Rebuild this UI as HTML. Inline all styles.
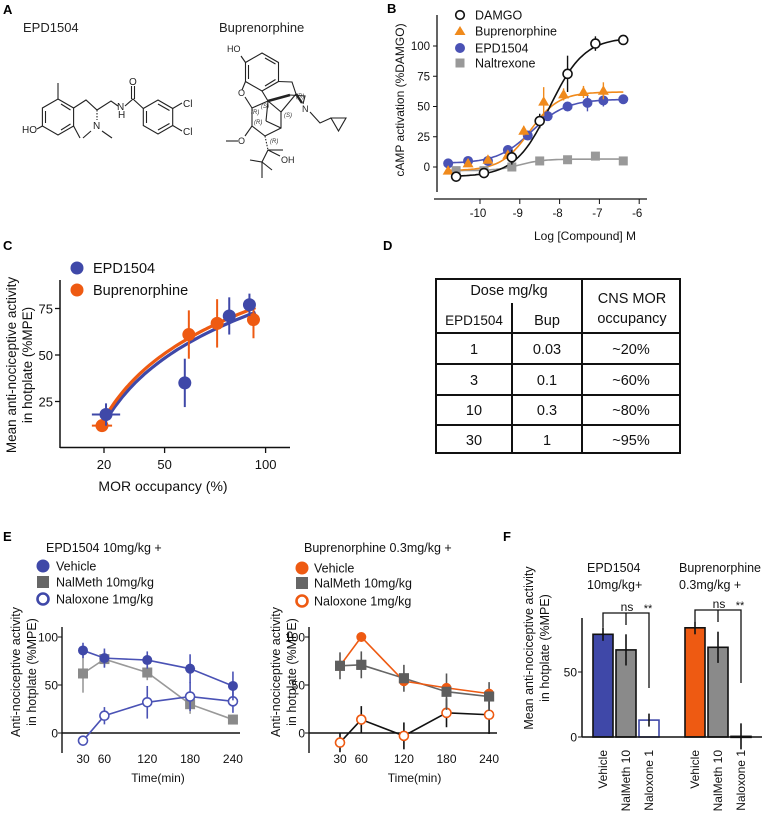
<!DOCTYPE html>
<html><head><meta charset="utf-8"><style>
html,body{margin:0;padding:0;background:#fff;}
svg{display:block;font-family:"Liberation Sans",sans-serif;}
</style></head><body>
<svg id="fig" width="767" height="820" viewBox="0 0 767 820" xmlns="http://www.w3.org/2000/svg">
<g font-weight="bold" font-size="13">
<text x="3" y="14">A</text>
<text x="387" y="13">B</text>
<text x="3" y="250">C</text>
<text x="383" y="250">D</text>
<text x="3" y="541">E</text>
<text x="503" y="541">F</text>
</g>
<g stroke="#222" stroke-width="1.1" fill="none">
<text x="23" y="32" font-size="13" fill="#222" stroke="none">EPD1504</text>
<text x="219" y="32" font-size="13" fill="#222" stroke="none">Buprenorphine</text>
<g>
<polygon points="58,99 73.6,108 73.6,126 58,135 42.4,126 42.4,108"/>
<line x1="61" y1="104" x2="70.5" y2="110"/><line x1="70.5" y1="124" x2="61" y2="130"/><line x1="45.5" y1="111" x2="45.5" y2="123"/>
<line x1="58" y1="99" x2="58" y2="83"/>
<line x1="73.6" y1="126" x2="80" y2="138"/>
<line x1="42.4" y1="126" x2="37" y2="129"/>
<polyline points="73.6,108 86,100 97,110 111,101 118,106"/>
<line x1="97" y1="110" x2="97" y2="120" stroke-dasharray="1.5,1.5"/>
<polyline points="91,131 83,138"/><polyline points="102,131 112,138"/>
<polyline points="125,106 133,99 143.3,108.5"/>
<line x1="131.5" y1="99" x2="131.5" y2="86"/><line x1="134.5" y1="99" x2="134.5" y2="86"/>
<polygon points="158,100 172.7,108.5 172.7,125.5 158,134 143.3,125.5 143.3,108.5"/>
<line x1="158" y1="104" x2="169.5" y2="110.5"/><line x1="169.5" y1="123.5" x2="158" y2="130"/><line x1="146.5" y1="111" x2="146.5" y2="123"/>
<line x1="172.7" y1="108.5" x2="182" y2="103"/><line x1="172.7" y1="125.5" x2="182" y2="131"/>
<g fill="#222" stroke="none" font-size="10">
<text x="22" y="133">HO</text><text x="93" y="129">N</text><text x="117" y="110">N</text><text x="118" y="118">H</text>
<text x="129" y="85">O</text><text x="183" y="107">Cl</text><text x="183" y="135">Cl</text>
</g></g>
<g>
<polygon points="262,53 278.5,62.5 278.5,81.5 262,91 245.5,81.5 245.5,62.5"/>
<line x1="265" y1="58" x2="275.5" y2="64"/><line x1="275.5" y1="79.5" x2="265" y2="86"/><line x1="248.5" y1="65" x2="248.5" y2="79"/>
<line x1="245.5" y1="62.5" x2="241" y2="56"/>
<polyline points="245.5,81.5 242,90"/><polyline points="245,97 252,108"/>
<polyline points="278.5,81.5 292,82 296,94"/>
<line x1="262" y1="91" x2="268" y2="101"/>
<polyline points="268,101 252,108 252,126 265,136 281,128 281,112 268,101"/>
<line x1="268" y1="101" x2="290" y2="95" stroke-width="2.6"/>
<polyline points="290,95 305,96 303,104"/>
<line x1="268" y1="101" x2="266" y2="121"/><line x1="266" y1="121" x2="281" y2="128"/>
<line x1="281" y1="112" x2="296" y2="94"/><line x1="296" y1="94" x2="302" y2="103" stroke-width="2.4"/>
<polyline points="310,112 320,123 331,118"/>
<polygon points="331,118 346,118 338.5,131"/>
<line x1="252" y1="126" x2="245" y2="136"/><line x1="238" y1="141" x2="226" y2="141"/>
<line x1="265" y1="136" x2="268" y2="150" stroke-dasharray="1.5,1.5"/>
<line x1="268" y1="150" x2="283" y2="150"/><line x1="268" y1="150" x2="280" y2="156"/>
<polyline points="268,150 262,162 250,160"/><polyline points="262,162 262,178"/><polyline points="262,162 272,170"/>
<g fill="#222" stroke="none" font-size="9">
<text x="227" y="52">HO</text><text x="238" y="96">O</text><text x="302" y="112">N</text><text x="238" y="144">O</text><text x="281" y="163">OH</text>
</g>
<g fill="#333" stroke="none" font-size="6" font-style="italic">
<text x="251" y="114">(R)</text><text x="261" y="108">(S)</text><text x="254" y="124">(R)</text><text x="284" y="117">(S)</text><text x="296" y="98">(R)</text><text x="270" y="143">(R)</text>
</g></g>
</g>
<g id="pb"></g>
<g id="pc"></g>
<g font-size="14.5" fill="#111" text-anchor="middle">
<g stroke="#111" stroke-width="2" fill="none">
<rect x="436" y="279" width="244" height="174"/>
<line x1="512" y1="303" x2="512" y2="453"/><line x1="582" y1="279" x2="582" y2="453"/>
<line x1="436" y1="333" x2="680" y2="333"/><line x1="436" y1="364" x2="680" y2="364"/><line x1="436" y1="395" x2="680" y2="395"/><line x1="436" y1="425" x2="680" y2="425"/>
</g>
<text x="509" y="295">Dose mg/kg</text>
<text x="474" y="325" font-size="13.5">EPD1504</text>
<text x="547" y="325">Bup</text>
<text x="632" y="303">CNS MOR</text>
<text x="632" y="323">occupancy</text>
<text x="474" y="354">1</text><text x="547" y="354">0.03</text><text x="631" y="354">~20%</text>
<text x="474" y="385">3</text><text x="547" y="385">0.1</text><text x="631" y="385">~60%</text>
<text x="474" y="415">10</text><text x="547" y="415">0.3</text><text x="631" y="415">~80%</text>
<text x="474" y="445">30</text><text x="547" y="445">1</text><text x="631" y="445">~95%</text>
</g>
<g id="pe"></g>
<g id="pf"></g>
</svg>
<script>
const NS='http://www.w3.org/2000/svg';
function mk(tag,attrs,parent){const e=document.createElementNS(NS,tag);for(const k in attrs)e.setAttribute(k,attrs[k]);parent.appendChild(e);return e;}
function txt(s,attrs,parent){const e=mk('text',attrs,parent);e.textContent=s;return e;}
const BLUE='#3f48a8', ORG='#ee5a12', BORG='#f08a1c';

/* ---------- Panel B data ---------- */
const bDamgoX=[-10.6,-9.9,-9.2,-8.5,-7.8,-7.1,-6.4];
const bDamgoY=[-8,-5,8,38,77,102,105];
const bDamgoE=[2,2,6,6,15,6,4];
const bBupX=[-10.8,-10.3,-9.8,-9.3,-8.9,-8.4,-7.9,-7.4,-6.9];
const bBupY=[-3,3,6,10,30,54,60,62,63];
const bBupE=[2,2,3,3,4,12,5,5,7];
const bEpdX=[-10.8,-10.3,-9.8,-9.3,-8.8,-8.3,-7.8,-7.3,-6.9,-6.4];
const bEpdY=[3,5,5,14,26,42,50,53,55,56];
const bEpdE=[4,3,3,4,3,3,3,7,5,3];
const bNalX=[-10.6,-9.9,-9.2,-8.5,-7.8,-7.1,-6.4];
const bNalY=[-3,-3,0,5,6,9,5];
const bTicksX=[-10,-9,-8,-7,-6];
const bTicksY=[0,25,50,75,100];
/* fitted curve params: bottom, top, logEC50, hill, xmin, xmax */
const bFitDamgo=[-8,107,-8.25,1,-10.6,-6.4];
const bFitBup=[-3,62,-8.75,1.2,-10.8,-6.4];
const bFitEpd=[3,56,-8.7,1,-10.8,-6.4];
const bFitNal=[-3,6.5,-9.0,1.5,-10.6,-6.4];
(function(){
const g=document.getElementById('pb');
const X=v=>480+(v+10)*39.8, Y=v=>167-v*1.21;
let a=mk('line',{x1:437,y1:15,x2:437,y2:192,stroke:'#111','stroke-width':1.3},g);


a=mk('line',{x1:434,y1:199,x2:647,y2:199,stroke:'#111','stroke-width':1.3},g);


bTicksY.forEach(v=>{mk('line',{x1:433,y1:Y(v),x2:437,y2:Y(v),stroke:'#111'},g);
 const t=txt(String(v),{x:430,y:Y(v)+4,'font-size':11.5,'text-anchor':'end',fill:'#111'},g);
 
 });
bTicksX.forEach(v=>{mk('line',{x1:X(v),y1:199,x2:X(v),y2:204,stroke:'#111'},g);
 const t=txt(String(v),{x:X(v)-2,y:217,'font-size':11.5,'text-anchor':'middle',fill:'#111'},g);
 
 });
let t=txt('Log [Compound] M',{x:585,y:240,'font-size':12,'text-anchor':'middle',fill:'#111'},g);


t=txt('cAMP activation (%DAMGO)',{x:0,y:0,'font-size':12,'text-anchor':'middle',fill:'#111',transform:'translate(404,100) rotate(-90)'},g);


function curve(p,col,name){let d='';for(let i=0;i<=80;i++){const x=p[4]+(p[5]-p[4])*i/80;const y=p[0]+(p[1]-p[0])/(1+Math.pow(10,(p[2]-x)*p[3]));d+=(i?'L':'M')+X(x).toFixed(1)+','+Y(y).toFixed(1);}
 const e=mk('path',{d:d,fill:'none',stroke:col,'stroke-width':1.6},g);
 
 }
curve(bFitNal,'#999','naltrexone-fit');curve(bFitEpd,'#4a52b5','epd1504-fit');curve(bFitBup,BORG,'buprenorphine-fit');curve(bFitDamgo,'#111','damgo-fit');
function errs(xs,ys,es,col){xs.forEach((x,i)=>{if(!es)return;mk('line',{x1:X(x),y1:Y(ys[i]-es[i]),x2:X(x),y2:Y(ys[i]+es[i]),stroke:col,'stroke-width':1.4},g);});}
errs(bNalX,bNalY,null,'#999');
bNalX.forEach((x,i)=>{const e=mk('rect',{x:X(x)-4.5,y:Y(bNalY[i])-4.5,width:9,height:9,fill:'#999'},g);
 
 });
errs(bEpdX,bEpdY,bEpdE,'#4a52b5');
bEpdX.forEach((x,i)=>{const e=mk('circle',{cx:X(x),cy:Y(bEpdY[i]),r:5,fill:'#4a52b5'},g);
 
 });
errs(bBupX,bBupY,bBupE,BORG);
bBupX.forEach((x,i)=>{const cx=X(x),cy=Y(bBupY[i]);const e=mk('polygon',{points:`${cx},${cy-5.5} ${cx+5.5},${cy+4} ${cx-5.5},${cy+4}`,fill:BORG},g);
 
 });
errs(bDamgoX,bDamgoY,bDamgoE,'#111');
bDamgoX.forEach((x,i)=>{const e=mk('circle',{cx:X(x),cy:Y(bDamgoY[i]),r:4.5,fill:'#fff',stroke:'#111','stroke-width':1.6},g);
 
 });
const leg=[['DAMGO',15],['Buprenorphine',31],['EPD1504',48],['Naltrexone',63]];
mk('circle',{cx:460,cy:15,r:4.3,fill:'#fff',stroke:'#111','stroke-width':1.6},g);
mk('polygon',{points:'460,26 465.5,35 454.5,35',fill:BORG},g);
mk('circle',{cx:460,cy:48,r:5,fill:'#4a52b5'},g);
mk('rect',{x:455.5,y:58.5,width:9,height:9,fill:'#999'},g);
leg.forEach(l=>{const e=txt(l[0],{x:475,y:l[1]+4.5,'font-size':12.5,fill:'#111'},g);
 
 });
})();

/* ---------- Panel C data ---------- */
const cEpdX=[21,60,82,92];
const cEpdY=[18,35,71,77];
const cEpdErrY=[6,13,10,6];
const cEpdErrX=[7,0,0,0];
const cBupX=[19,62,76,94];
const cBupY=[12,61,67,69];
const cBupErrY=[0,13,13,10];
const cBupErrX=[5,0,0,0];
const cTicksX=[20,50,100];
const cTicksY=[25,50,75];
/* log fit: intercept at x=20, slope per ln unit, xmin, xmax */
const cFitEpd=[13,38.5,20.5,95];
const cFitBup=[15.5,38.5,20,95];
(function(){
const g=document.getElementById('pc');
const X=v=>104+(v-20)*2.02, Y=v=>448-v*1.86;
let a=mk('line',{x1:60,y1:280,x2:60,y2:448,stroke:'#111','stroke-width':1.5},g);


a=mk('line',{x1:60,y1:447.5,x2:290,y2:447.5,stroke:'#111','stroke-width':1.5},g);


cTicksY.forEach(v=>{mk('line',{x1:55,y1:Y(v),x2:60,y2:Y(v),stroke:'#111','stroke-width':1.3},g);
 const t=txt(String(v),{x:53,y:Y(v)+5,'font-size':13,'text-anchor':'end',fill:'#111'},g);
 
 });
cTicksX.forEach(v=>{mk('line',{x1:X(v),y1:448,x2:X(v),y2:453,stroke:'#111','stroke-width':1.3},g);
 const t=txt(String(v),{x:X(v),y:469,'font-size':13,'text-anchor':'middle',fill:'#111'},g);
 
 });
let t=txt('MOR occupancy (%)',{x:163,y:491,'font-size':14,'text-anchor':'middle',fill:'#111'},g);


t=txt('Mean anti-nociceptive activity',{x:0,y:0,'font-size':13.5,'text-anchor':'middle',fill:'#111',transform:'translate(16,365) rotate(-90)'},g);


t=txt('in hotplate (%MPE)',{x:0,y:0,'font-size':13.5,'text-anchor':'middle',fill:'#111',transform:'translate(32,365) rotate(-90)'},g);


function fit(p,col,name){let d='';for(let i=0;i<=60;i++){const x=p[2]+(p[3]-p[2])*i/60;const y=p[0]+p[1]*Math.log(x/20);d+=(i?'L':'M')+X(x).toFixed(1)+','+Y(y).toFixed(1);}
 const e=mk('path',{d:d,fill:'none',stroke:col,'stroke-width':3.2},g);
 
 }
fit(cFitEpd,BLUE,'c-epd1504-fit');fit(cFitBup,ORG,'c-buprenorphine-fit');
function pts(xs,ys,ey,ex,col,name){xs.forEach((x,i)=>{
 if(ey[i])mk('line',{x1:X(x),y1:Y(ys[i]-ey[i]),x2:X(x),y2:Y(ys[i]+ey[i]),stroke:col,'stroke-width':2},g);
 if(ex[i])mk('line',{x1:X(x-ex[i]),y1:Y(ys[i]),x2:X(x+ex[i]),y2:Y(ys[i]),stroke:col,'stroke-width':2},g);
 const e=mk('circle',{cx:X(x),cy:Y(ys[i]),r:6.5,fill:col},g);
 
 });}
pts(cBupX,cBupY,cBupErrY,cBupErrX,ORG,'c-buprenorphine-point');
pts(cEpdX,cEpdY,cEpdErrY,cEpdErrX,BLUE,'c-epd1504-point');
mk('circle',{cx:77,cy:268,r:6.5,fill:BLUE},g);mk('circle',{cx:77,cy:290,r:6.5,fill:ORG},g);
t=txt('EPD1504',{x:93,y:273,'font-size':14.5,fill:'#111'},g);


t=txt('Buprenorphine',{x:93,y:295,'font-size':14.5,fill:'#111'},g);


})();

/* ---------- Panel E data ---------- */
const eTimes=[30,60,120,180,240];
const eTicksY=[0,50,100];
const eLVeh=[86,78,76,67,49];
const eLVehE=[8,10,9,15,15];
const eLNal=[62,77,63,30,14];
const eLNalE=[20,8,8,10,5];
const eLNlx=[-8,18,32,38,33];
const eLNlxE=[3,9,17,15,12];
const eRVeh=[70,100,54,47,41];
const eRNal=[70,71,57,43,38];
const eRNalE=[14,14,14,19,15];
const eRNlx=[-10,14,-3,21,19];
const eRNlxE=[10,14,14,15,20];
(function(){
const g=document.getElementById('pe');
const Y=v=>733-v*0.96;
const XL=t=>83+(t-30)*0.714, XR=t=>340+(t-30)*0.71;
function axes(x0,x1,X,pre,lx){
 let a=mk('line',{x1:x0,y1:627,x2:x0,y2:753,stroke:'#111','stroke-width':1.4},g);
 
 
 a=mk('line',{x1:x0,y1:733,x2:x1,y2:733,stroke:'#111','stroke-width':1.4},g);
 
 
 eTicksY.forEach(v=>{mk('line',{x1:x0-4,y1:Y(v),x2:x0,y2:Y(v),stroke:'#111'},g);
  const t=txt(String(v),{x:x0-4,y:Y(v)+4.5,'font-size':12,'text-anchor':'end',fill:'#111'},g);
  
  });
 eTimes.forEach(v=>{const t=txt(String(v),{x:X(v),y:763,'font-size':12,'text-anchor':'middle',fill:'#111'},g);
  
  });
 let t=txt('Time(min)',{x:(X(30)+X(240))/2,y:782,'font-size':12,'text-anchor':'middle',fill:'#111'},g);
 
 
 t=txt('Anti-nociceptive activity',{x:0,y:0,'font-size':12.5,'text-anchor':'middle',fill:'#111',transform:`translate(${lx},672) rotate(-90)`},g);
 
 
 t=txt('in hotplate (%MPE)',{x:0,y:0,'font-size':12.5,'text-anchor':'middle',fill:'#111',transform:`translate(${lx+16},672) rotate(-90)`},g);
 
 }
axes(62,240,XL,'e-left',20);axes(309,497,XR,'e-right',280);
function series(X,ys,es,lineCol,errCol,mark,name){
 const l=mk('polyline',{points:eTimes.map((t,i)=>X(t)+','+Y(ys[i])).join(' '),fill:'none',stroke:lineCol,'stroke-width':1.6},g);
 
 
 eTimes.forEach((t,i)=>{const cx=X(t),cy=Y(ys[i]);
  if(es)mk('line',{x1:cx,y1:Y(ys[i]-es[i]),x2:cx,y2:Y(ys[i]+es[i]),stroke:errCol,'stroke-width':1.6},g);
  let e;
  if(mark[0]==='c')e=mk('circle',{cx:cx,cy:cy,r:5,fill:mark[1]},g);
  else if(mark[0]==='o')e=mk('circle',{cx:cx,cy:cy,r:4.5,fill:'#fff',stroke:mark[1],'stroke-width':1.6},g);
  else e=mk('rect',{x:cx-5,y:cy-5,width:10,height:10,fill:mark[1]},g);
  
  });}
series(XL,eLNal,eLNalE,'#999','#999',['s','#8a8a8a'],'e-left-nalmeth');
series(XL,eLNlx,eLNlxE,'#4a52b5','#4a52b5',['o','#4a52b5'],'e-left-naloxone');
series(XL,eLVeh,eLVehE,'#4a52b5','#4a52b5',['c','#3f48a8'],'e-left-vehicle');
series(XR,eRNlx,eRNlxE,'#111','#111',['o',ORG],'e-right-naloxone');
series(XR,eRNal,eRNalE,'#666','#555',['s','#5e5e5e'],'e-right-nalmeth');
series(XR,eRVeh,null,ORG,ORG,['c',ORG],'e-right-vehicle');
// re-draw nalmeth squares over vehicle line
eTimes.forEach((t,i)=>{mk('rect',{x:XR(t)-5,y:Y(eRNal[i])-5,width:10,height:10,fill:'#5e5e5e'},g);});
function legend(x,tx,title,ys,cols){
 let t=txt(title,{x:tx-10,y:552,'font-size':12.5,fill:'#111'},g);
 
 
 mk('circle',{cx:x,cy:ys[0],r:6.5,fill:cols[0]},g);
 mk('rect',{x:x-6,y:ys[1]-6,width:12,height:12,fill:cols[1]},g);
 mk('circle',{cx:x,cy:ys[2],r:5.5,fill:'#fff',stroke:cols[2],'stroke-width':2.6},g);
 ['Vehicle','NalMeth 10mg/kg','Naloxone 1mg/kg'].forEach((s,i)=>{const e=txt(s,{x:tx,y:ys[i]+4.5,'font-size':12.5,fill:'#111'},g);
  
  });}
legend(43,56,'EPD1504 10mg/kg +',[566,582,599],[BLUE,'#666',BLUE]);
legend(302,314,'Buprenorphine 0.3mg/kg +',[568,583,601],[ORG,'#666',ORG]);
})();

/* ---------- Panel F data ---------- */
const fLabels=['Vehicle','NalMeth 10','Naloxone 1','Vehicle','NalMeth 10','Naloxone 1'];
const fValues=[79,67,13,84,69,0.5];
const fErrors=[5,12,5,5,12,10];
const fTicksY=[0,50];
(function(){
const g=document.getElementById('pf');
const Y=v=>737-v*1.3;
const cx=[603,626,649,695,718,741];
const fills=[BLUE,'#8a8a8a','#fff',ORG,'#8a8a8a','#fff'];
const strokes=['#111','#111',BLUE,'#111','#111','#111'];
let a=mk('line',{x1:582,y1:618,x2:582,y2:737,stroke:'#111','stroke-width':1.5},g);


fTicksY.forEach(v=>{mk('line',{x1:578,y1:Y(v),x2:582,y2:Y(v),stroke:'#111'},g);
 const t=txt(String(v),{x:577,y:Y(v)+4.5,'font-size':12,'text-anchor':'end',fill:'#111'},g);
 
 });
fValues.forEach((v,i)=>{const h=Math.max(v*1.3,1);
 const b=mk('rect',{x:cx[i]-10,y:Y(v),width:20,height:h,fill:fills[i],stroke:strokes[i],'stroke-width':1.6},g);
 
 
 mk('line',{x1:cx[i],y1:Y(v-fErrors[i]),x2:cx[i],y2:Y(v+fErrors[i]),stroke:'#111','stroke-width':1.6},g);
 const t=txt(fLabels[i],{x:0,y:0,'font-size':12,'text-anchor':'end',fill:'#111',transform:`translate(${cx[i]+4},750) rotate(-90)`},g);
 
 });
a=mk('line',{x1:582,y1:737,x2:762,y2:737,stroke:'#111','stroke-width':1.5},g);


[[603,649,613,688,626],[695,741,610,683,718]].forEach(br=>{
 const p=mk('polyline',{points:`${br[0]},${Y(fValues[br[0]===603?0:3]+fErrors[0])} ${br[0]},${br[2]} ${br[1]},${br[2]} ${br[1]},${br[3]}`,fill:'none',stroke:'#111','stroke-width':1.3},g);
 
 
 mk('line',{x1:br[4],y1:br[2],x2:br[4],y2:br[2]+12,stroke:'#111','stroke-width':1.3},g);
 let t=txt('ns',{x:br[4]+1,y:br[2]-2,'font-size':12,'text-anchor':'middle',fill:'#111'},g);
 
 
 t=txt('**',{x:br[1]-1,y:br[2]-1,'font-size':11,'text-anchor':'middle',fill:'#111'},g);
 
 });
[['EPD1504',587,572],['10mg/kg+',587,589],['Buprenorphine',679,572],['0.3mg/kg +',679,589]].forEach(s=>{
 const t=txt(s[0],{x:s[1],y:s[2],'font-size':12.5,fill:'#111'},g);
 
 });
let t=txt('Mean anti-nociceptive activity',{x:0,y:0,'font-size':12.5,'text-anchor':'middle',fill:'#111',transform:'translate(533,648) rotate(-90)'},g);


t=txt('in hotplate (%MPE)',{x:0,y:0,'font-size':12.5,'text-anchor':'middle',fill:'#111',transform:'translate(549,648) rotate(-90)'},g);


})();
</script>
</body></html>
